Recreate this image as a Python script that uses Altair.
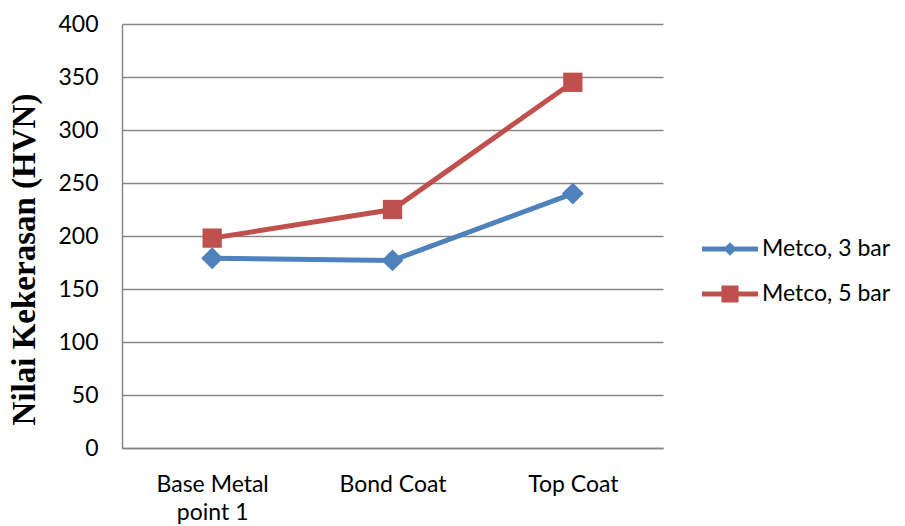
import altair as alt
import pandas as pd

categories = ["Base Metal point 1", "Bond Coat", "Top Coat"]
series_names = ["Metco, 3 bar", "Metco, 5 bar"]
metco_3bar = [179, 177, 240]
metco_5bar = [198, 225, 345]
y_ticks = [0, 50, 100, 150, 200, 250, 300, 350, 400]
colors = ["#4F81BD", "#C0504D"]
marker_shapes = ["diamond", "square"]
marker_sizes = [480, 372]

rows = []
for name, vals in zip(series_names, [metco_3bar, metco_5bar]):
    for cat, v in zip(categories, vals):
        rows.append({"Kategori": cat, "Seri": name, "HVN": v})
df = pd.DataFrame(rows)

# legend glyphs: a short line with the series marker on it
line_part = "M-1.87,-0.17 L1.87,-0.17 L1.87,0.17 L-1.87,0.17 Z "
diamond_glyph = line_part + "M0,-0.45 L0.45,0 L0,0.45 L-0.45,0 Z"
square_glyph = line_part + "M-0.57,-0.57 L0.57,-0.57 L0.57,0.57 L-0.57,0.57 Z"

LABEL_FONT = "Lato"
LABEL_SIZE = 23

x_enc = alt.X(
    "Kategori:N",
    sort=categories,
    scale=alt.Scale(type="point", padding=0.5),
    axis=alt.Axis(
        title=None,
        labelAngle=0,
        ticks=False,
        labelPadding=25,
        labelFont=LABEL_FONT,
        labelFontSize=LABEL_SIZE,
        labelColor="#000000",
        labelLineHeight=28,
        labelExpr="split(replace(datum.label, 'Metal point', 'Metal|point'), '|')",
        domainColor="#868686",
        domainWidth=1.5,
        grid=False,
    ),
)
y_enc = alt.Y(
    "HVN:Q",
    scale=alt.Scale(domain=[0, 400], nice=False),
    axis=alt.Axis(
        title="Nilai Kekerasan (HVN)",
        values=y_ticks,
        ticks=False,
        tickSize=0,
        labelPadding=24,
        labelFont=LABEL_FONT,
        labelFontSize=LABEL_SIZE,
        labelColor="#000000",
        titleFont="Liberation Serif",
        titleFontWeight="bold",
        titleFontSize=33,
        titleColor="#000000",
        titleAngle=270,
        titleAlign="center",
        titleBaseline="middle",
        titleX=-98,
        titleY=235,
        domainColor="#868686",
        domainWidth=1.5,
        gridColor="#868686",
        gridWidth=1.5,
    ),
)

legend_props = dict(
    title=None,
    orient="none",
    legendX=593,
    legendY=210,
    padding=0,
    symbolSize=900,
    symbolStrokeWidth=0,
    symbolOpacity=1,
    rowPadding=18,
    labelOffset=17,
    labelFont=LABEL_FONT,
    labelFontSize=LABEL_SIZE,
    labelColor="#000000",
)

base = alt.Chart(df)

# one line and one marker layer per series
series_layers = []
for name, col in zip(series_names, colors):
    sub = base.transform_filter(alt.datum.Seri == name)
    series_layers.append(
        sub.mark_line(strokeWidth=5, color=col).encode(x=x_enc, y=y_enc)
    )
for name, col, shp, sz in zip(series_names, colors, marker_shapes, marker_sizes):
    sub = base.transform_filter(alt.datum.Seri == name)
    series_layers.append(
        sub.mark_point(shape=shp, filled=True, opacity=1, size=sz, color=col).encode(
            x=x_enc, y=y_enc
        )
    )

# carries the legend only; its own marks stay invisible
legend_layer = base.mark_point(filled=True, opacity=0).encode(
    x=x_enc,
    y=y_enc,
    color=alt.Color(
        "Seri:N",
        scale=alt.Scale(domain=series_names, range=colors),
        legend=alt.Legend(**legend_props),
    ),
    shape=alt.Shape(
        "Seri:N",
        scale=alt.Scale(domain=series_names, range=[diamond_glyph, square_glyph]),
        legend=alt.Legend(**legend_props),
    ),
)

chart = (
    alt.layer(*series_layers, legend_layer)
    .properties(
        width=541,
        height=424,
        autosize=alt.AutoSizeParams(type="none"),
        padding={"left": 122, "top": 24, "right": 242, "bottom": 78},
        background="#ffffff",
    )
    .configure_view(stroke=None)
)

chart.save("out.html", embed_options={"renderer": "svg", "actions": False})
